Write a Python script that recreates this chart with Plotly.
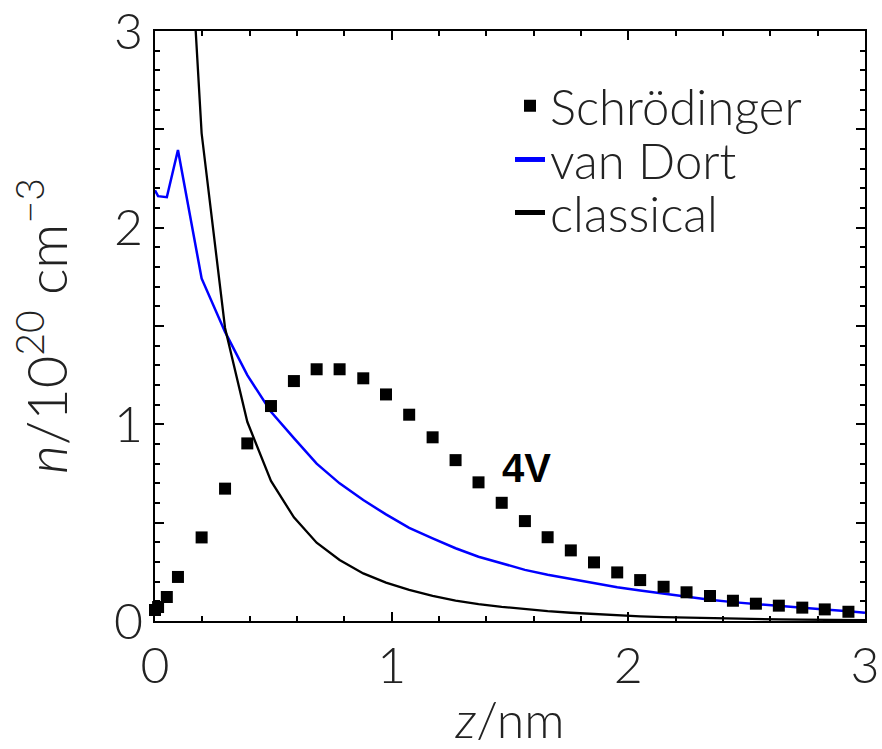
import plotly.graph_objects as go

# Schrödinger data points
schr_x = [0, 0.013, 0.05, 0.097, 0.197, 0.296, 0.39, 0.49, 0.587, 0.683, 0.78, 0.88, 0.976,
          1.074, 1.173, 1.27, 1.367, 1.465, 1.563, 1.659, 1.757, 1.855, 1.953, 2.05, 2.149,
          2.246, 2.345, 2.442, 2.539, 2.636, 2.735, 2.83, 2.93]
schr_y = [0.056, 0.071, 0.122, 0.224, 0.425, 0.673, 0.903, 1.093, 1.22, 1.28, 1.28, 1.234, 1.152,
          1.049, 0.934, 0.818, 0.705, 0.601, 0.508, 0.426, 0.359, 0.298, 0.247, 0.208, 0.174,
          0.146, 0.127, 0.103, 0.088, 0.078, 0.068, 0.059, 0.047]

# van Dort curve
vd_x = schr_x + [3.0]
vd_y = [2.19, 2.16, 2.155, 2.395, 1.742, 1.47, 1.25, 1.064, 0.93, 0.80, 0.70, 0.615, 0.542,
        0.474, 0.42, 0.37, 0.327, 0.293, 0.26, 0.235, 0.213, 0.193, 0.172, 0.155, 0.138,
        0.123, 0.108, 0.096, 0.086, 0.077, 0.068, 0.058, 0.05, 0.042]

# classical curve
cl_x = schr_x[3:] + [3.0]
cl_y = [4.56, 2.48, 1.49, 1.013, 0.712, 0.527, 0.398, 0.31, 0.242, 0.195,
        0.158, 0.128, 0.104, 0.086, 0.072, 0.06, 0.05, 0.042, 0.035, 0.029,
        0.024, 0.02, 0.017, 0.014, 0.012, 0.01, 0.008, 0.007, 0.006, 0.005, 0.004]

x_tickvals = [0, 1, 2, 3]
x_ticktext = ["0", "1", "2", "3"]
y_tickvals = [0, 0.5, 1, 1.5, 2, 2.5, 3]
y_ticktext = ["0", "", "1", "", "2", "", "3"]

FONT = "Lato"

fig = go.Figure()
fig.add_trace(go.Scatter(x=vd_x, y=vd_y, mode="lines", name="van Dort",
                         line=dict(color="#0000ff", width=2.5), legend="legend2"))
fig.add_trace(go.Scatter(x=cl_x, y=cl_y, mode="lines", name="classical",
                         line=dict(color="black", width=2.3), legend="legend3"))
fig.add_trace(go.Scatter(x=schr_x, y=schr_y, mode="markers", name="Schrödinger",
                         marker=dict(symbol="square", size=12, color="black"),
                         cliponaxis=False, legend="legend"))

fig.add_annotation(x=1.57, y=0.78, text="<b>4V</b>", showarrow=False,
                   font=dict(family="Liberation Sans", size=40, color="black"))

axis_common = dict(showline=True, linecolor="black", linewidth=2, mirror="allticks",
                   ticks="inside", tickcolor="black", tickwidth=1.5, showgrid=False,
                   zeroline=False, range=[0, 3], automargin=False, ticklabeloverflow="allow",
                   tickfont=dict(family=FONT, size=50, color="#222", weight=300))

fig.update_xaxes(**axis_common, tickvals=x_tickvals, ticktext=x_ticktext, ticklen=9,
                 minor=dict(dtick=0.2, ticks="inside", ticklen=5, tickcolor="black", tickwidth=1.5),
                 title=dict(text="<i>z</i>/nm", font=dict(family=FONT, size=50, color="#222", weight=300),
                            standoff=18))
fig.update_yaxes(**axis_common, tickvals=y_tickvals, ticktext=y_ticktext, ticklen=9,
                 minor=dict(dtick=0.1, ticks="inside", ticklen=5, tickcolor="black", tickwidth=1.5),
                 title=dict(text="<i>n</i>/10<sup>20</sup> cm<sup>−3</sup>",
                            font=dict(family=FONT, size=56, color="#222", weight=300),
                            standoff=28))

leg_common = dict(x=0.50, xanchor="left", yanchor="middle",
                  bgcolor="rgba(0,0,0,0)", borderwidth=0,
                  font=dict(family=FONT, size=49, color="#222", weight=300),
                  itemsizing="constant")

fig.update_layout(
    width=882, height=749,
    margin=dict(l=155, r=17, t=31, b=128, autoexpand=False),
    plot_bgcolor="white", paper_bgcolor="white",
    showlegend=True,
    legend=dict(**leg_common, y=0.873),
    legend2=dict(**leg_common, y=0.782),
    legend3=dict(**leg_common, y=0.692),
)

fig.write_html("out.html")
